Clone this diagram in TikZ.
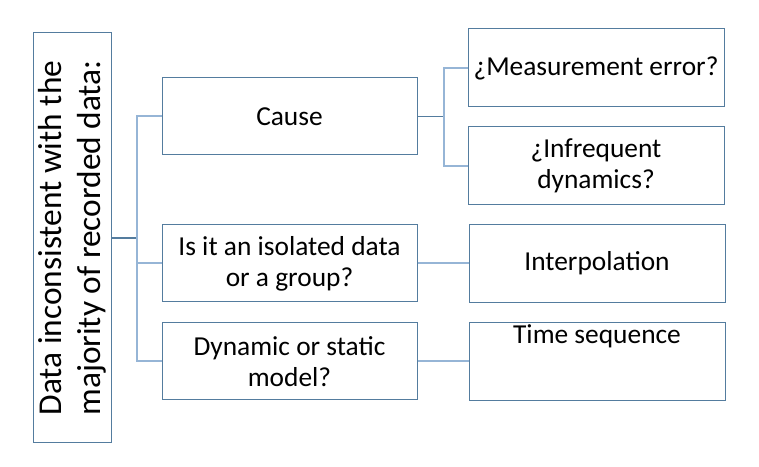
\documentclass[tikz,border=0pt]{standalone}
\usepackage{fontspec}
\setmainfont{Carlito}
\usetikzlibrary{positioning}

\definecolor{boxline}{RGB}{84,124,158}
\definecolor{treeline}{RGB}{150,181,214}

\tikzstyle{b} = [rectangle, minimum width=255bp, minimum height=77bp, inner sep=0pt, text centered, align=center, draw=boxline, line width=1bp, fill=white, font=\fontsize{27.5}{31}\selectfont]
\tikzstyle{r} = [b, minimum width=256bp, minimum height=78bp]
\tikzstyle{root} = [b, minimum width=410bp, minimum height=78bp, rotate=90, font=\fontsize{33.5}{39}\selectfont]
\tikzstyle{tree} = [draw=treeline, line width=2bp]
\tikzstyle{link} = [draw=boxline, line width=1.5bp]

\begin{document}
\begin{tikzpicture}[x=1bp,y=1bp]
\useasboundingbox (0,0) rectangle (759,467);

    \node[root] (R) at (72,229) {Data inconsistent with the\\majority of recorded data:};

    \node[b] (C) at (289.5,350.5) {Cause};
    \node[b] (I) [below=69bp of C] {Is it an isolated data\\or a group?};
    \node[b] (D) [below=20bp of I] {Dynamic or static\\model?};

    \node[r] (M) at (596,399) {¿Measurement error?};
    \node[r] (F) [below=19bp of M] {¿Infrequent\\dynamics?};
    \node[r] (P) [right=51bp of I] {Interpolation};
    \node[r] (T) [right=51bp of D] {Time sequence\\[14bp]\strut};

    \coordinate (J1) at (137,229);
    \coordinate[right=26bp of C] (J2);

    \draw[link] (R.south) -- (J1);
    \draw[tree] (C.west) -| (J1) |- (D.west);
    \draw[tree] (J1) |- (I.west);

    \draw[link] (C.east) -- (J2);
    \draw[tree] (M.west) -| (J2) |- (F.west);

    \draw[tree] (I.east) -- (P.west);
    \draw[tree] (D.east) -- (T.west);

\end{tikzpicture}
\end{document}
